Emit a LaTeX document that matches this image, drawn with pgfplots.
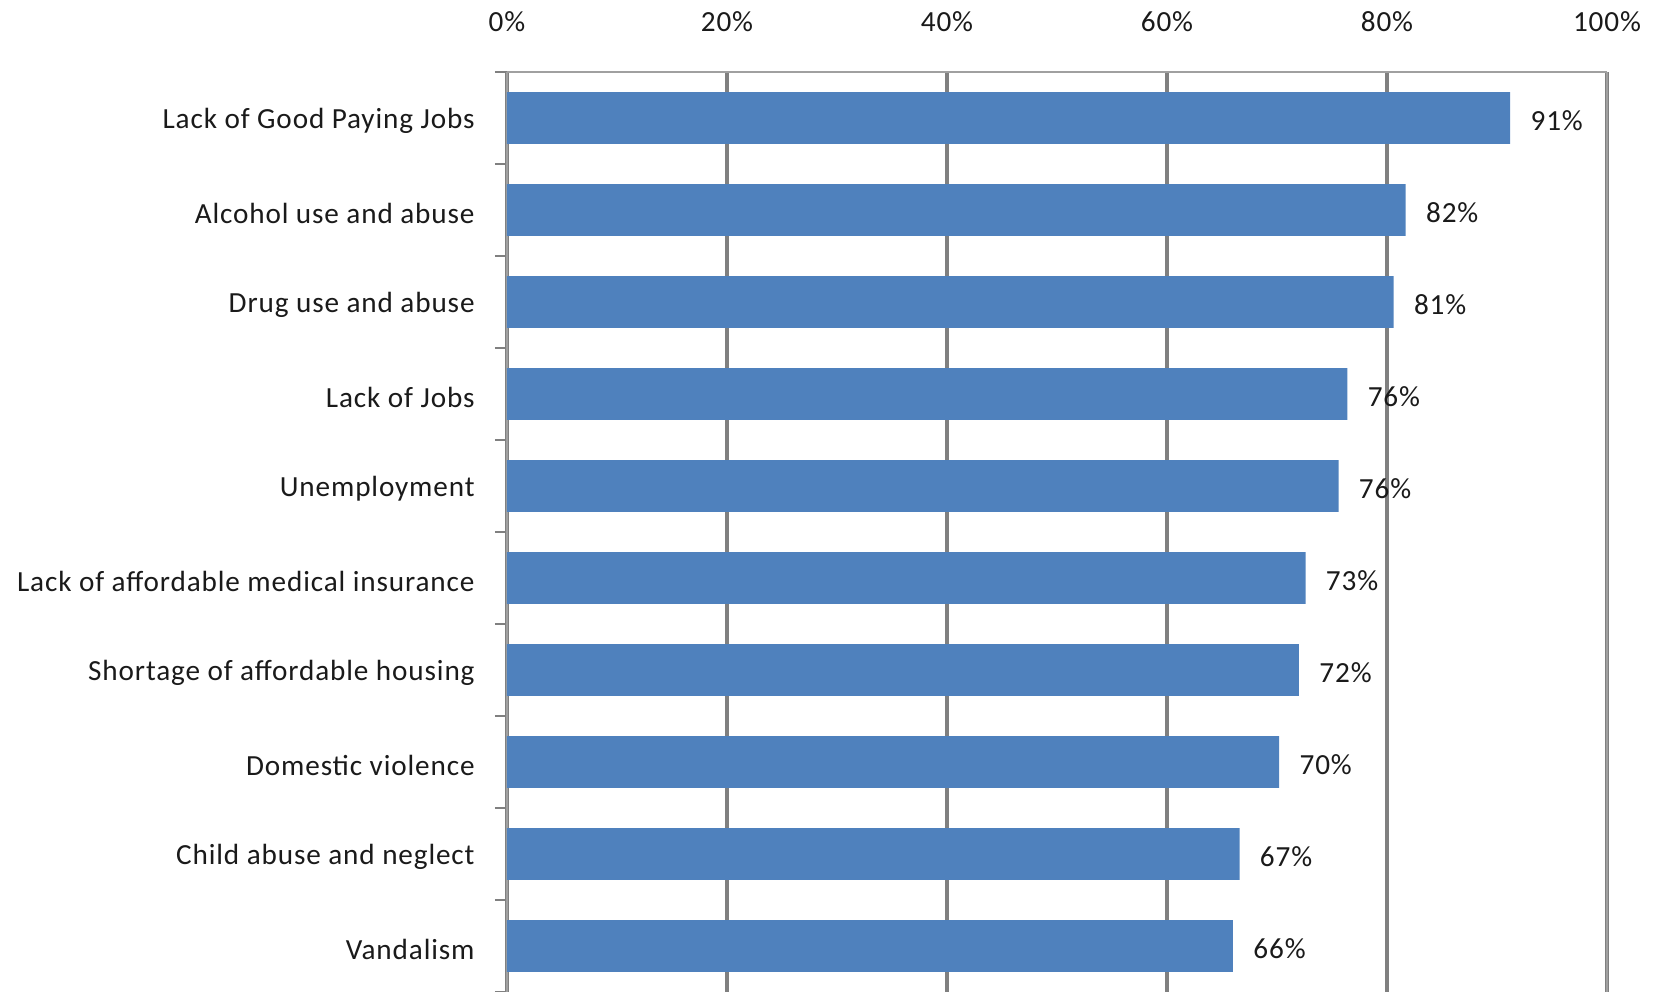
\documentclass[border=0pt]{standalone}
\usepackage{pgfplots}
\pgfplotsset{compat=1.18}
\usepackage{fontspec}
\setmainfont{Carlito}[LetterSpace=3]
\definecolor{barblue}{HTML}{4F81BD}
\definecolor{gridg}{HTML}{808080}
\definecolor{boxg}{HTML}{A0A0A0}
\definecolor{txt}{HTML}{1A1A1A}
\begin{document}
\begin{tikzpicture}
\begin{axis}[
  width=550pt, height=460pt, scale only axis,
  xbar, bar width=0.56,
  xmin=0, xmax=100,
  ymin=-0.5, ymax=9.5, y dir=reverse,
  axis x line*=top, axis y line*=box,
  axis line style={boxg, line width=1.4pt},
  xtick={0,20,...,100},
  xticklabels={0\%,20\%,40\%,60\%,80\%,100\%},
  xmajorgrids, major grid style={gridg, line width=1.6pt},
  major tick length=0pt,
  ytick={0,...,9},
  yticklabels={Lack of Good Paying Jobs, Alcohol use and abuse, Drug use and abuse, Lack of Jobs, Unemployment, Lack of affordable medical insurance, Shortage of affordable housing, Domestic violence, Child abuse and neglect, Vandalism},
  minor ytick={-0.5,0.5,...,9.5},
  minor tick length=6pt,
  minor tick style={gridg, line width=1.4pt},
  ytick pos=left,
  tick align=outside,
  tick label style={font=\fontsize{14.6}{16}\selectfont, text=txt},
  yticklabel style={anchor=east, inner sep=0pt, xshift=-16pt, yshift=-1.5pt},
  xticklabel style={anchor=south, inner sep=0pt, yshift=20pt},
  /pgf/number format/assume math mode=true,
  point meta=explicit symbolic,
  nodes near coords,
  nodes near coords style={anchor=west, inner sep=0pt, xshift=10pt, yshift=-1.5pt, font=\fontsize{14.6}{16}\selectfont, text=txt},
  clip=false,
]
\addplot[fill=barblue, draw=none] coordinates {
  (91.2,0) [91\%]
  (81.7,1) [82\%]
  (80.6,2) [81\%]
  (76.4,3) [76\%]
  (75.6,4) [76\%]
  (72.6,5) [73\%]
  (72.0,6) [72\%]
  (70.2,7) [70\%]
  (66.6,8) [67\%]
  (66.0,9) [66\%]
};
\end{axis}
\pgfresetboundingbox
\path ([xshift=-253.5pt]current axis.south west) rectangle ([xshift=24.5pt, yshift=36pt]current axis.north east);
\end{tikzpicture}
\end{document}
